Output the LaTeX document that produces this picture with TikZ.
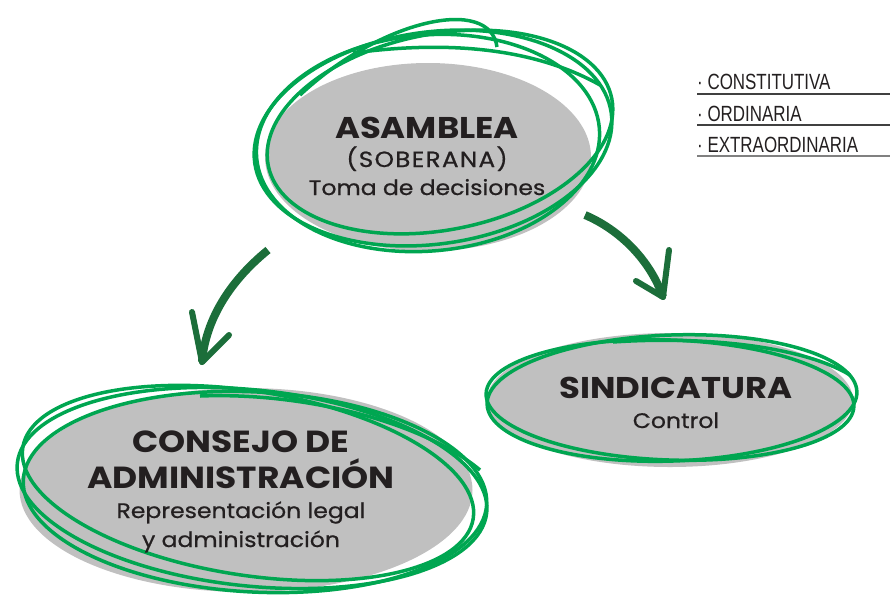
\documentclass[tikz,border=0pt]{standalone}
\usepackage{fontspec}
\setmainfont{Poppins}[FakeStretch=1.13]
\newfontfamily\subfont{Poppins}[FakeStretch=1.12,FakeBold=0.7]
\newfontfamily\legendfont[FakeStretch=0.77]{Liberation Sans}
\usetikzlibrary{shapes.geometric}
\definecolor{grayfill}{RGB}{192,192,192}
\definecolor{scribble}{RGB}{0,166,81}
\definecolor{arrowgreen}{RGB}{28,110,58}
\definecolor{txt}{RGB}{35,31,32}
\begin{document}
\begin{tikzpicture}[x=1pt,y=-1pt,
  blob/.style={ellipse, fill=grayfill, draw=none, inner sep=0pt},
  scrib/.style={draw=scribble, line width=3.5pt},
  title/.style={font=\bfseries\fontsize{30}{30}\selectfont, text=txt, anchor=base, inner sep=0pt},
  sub/.style={font=\subfont\fontsize{21}{21}\selectfont, text=txt, anchor=base, inner sep=0pt},
  brush/.style={draw=arrowgreen, line width=8pt},
  barb/.style={draw=arrowgreen, line width=6pt, line cap=round},
  legend/.style={font=\legendfont\fontsize{22}{22}\selectfont, text=txt, anchor=base west, inner sep=0pt},
  rulebar/.style={draw=black!75, line width=1.2pt}]
\useasboundingbox (0,0) rectangle (890,595);
% grey blobs
\node[blob, minimum width=326pt, minimum height=188pt] (asamblea) at (428,157) {};
\node[blob, minimum width=366pt, minimum height=134pt] (sindicatura) at (670,400) {};
\node[blob, minimum width=453pt, minimum height=204pt] (consejo) at (246,490) {};
% scribbles: asamblea
\draw[scrib, rotate around={8:(433,138)}] (433,138) ellipse [x radius=180, y radius=106];
\draw[scrib, rotate around={5:(428,143)}] (428,143) ellipse [x radius=172, y radius=108];
\draw[scrib, rotate around={11:(440,132)}] (440,132) ellipse [x radius=175, y radius=98];
\draw[scrib] (353,53) .. controls (420,44) and (520,40) .. (600,85);
\draw[scrib] (300,95) .. controls (380,20) and (490,-5) .. (497,47);
% scribbles: sindicatura
\draw[scrib, rotate around={2:(672,398)}] (672,398) ellipse [x radius=185, y radius=63];
\draw[scrib, rotate around={-2:(670,400)}] (670,400) ellipse [x radius=184, y radius=60];
\draw[scrib] (613,342) .. controls (700,336) and (800,345) .. (850,375);
% scribbles: consejo
\draw[scrib, rotate around={-6:(252,488)}] (252,488) ellipse [x radius=236, y radius=98];
\draw[scrib, rotate around={-9:(248,483)}] (248,483) ellipse [x radius=228, y radius=92];
\draw[scrib, rotate around={-3:(255,492)}] (255,492) ellipse [x radius=232, y radius=100];
\draw[scrib] (200,396) .. controls (300,392) and (420,420) .. (480,470);
% texts
\node[title] (t1) at (427,138) {ASAMBLEA};
\node[sub, font=\subfont\fontsize{22}{22}\selectfont\addfontfeatures{LetterSpace=6}] (t2) at (427,167) {(SOBERANA)};
\node[sub] (t3) at (427,195) {Toma de decisiones};
\node[title] (t4) at (676,398) {SINDICATURA};
\node[sub] (t5) at (676,428) {Control};
\node[title, font=\bfseries\fontsize{30.5}{30.5}\selectfont] (t6) at (241,452) {CONSEJO DE};
\node[title, font=\bfseries\fontsize{30.5}{30.5}\selectfont] (t7) at (241,488) {ADMINISTRACIÓN};
\node[sub] (t8) at (241,518) {Representación legal};
\node[sub] (t9) at (241,547) {y administración};
% arrows
\coordinate (la) at (268,250);
\coordinate (lb) at (202,362);
\coordinate (lc) at (192,312);
\coordinate (ld) at (229,335);
\draw[brush] (la) .. controls (225,285) and (205,325) .. (lb);
\draw[barb] (lb) -- (lc);
\draw[barb] (lb) -- (ld);
\coordinate (ra) at (585,215);
\coordinate (rb) at (663,297);
\coordinate (rc) at (669,250);
\coordinate (rd) at (636,281);
\draw[brush] (ra) .. controls (620,230) and (650,260) .. (rb);
\draw[barb] (rb) -- (rc);
\draw[barb] (rb) -- (rd);
% legend
\node[legend] (l1) at (697,89) {· CONSTITUTIVA};
\node[legend] (l2) at (697,121) {· ORDINARIA};
\node[legend] (l3) at (697,152) {· EXTRAORDINARIA};
\coordinate (r1a) at (697,94); \coordinate (r1b) at (890,94);
\coordinate (r2a) at (697,125); \coordinate (r2b) at (890,125);
\coordinate (r3a) at (697,156); \coordinate (r3b) at (890,156);
\draw[rulebar] (r1a) -- (r1b);
\draw[rulebar] (r2a) -- (r2b);
\draw[rulebar, draw=black!50] (r3a) -- (r3b);
\end{tikzpicture}
\end{document}
